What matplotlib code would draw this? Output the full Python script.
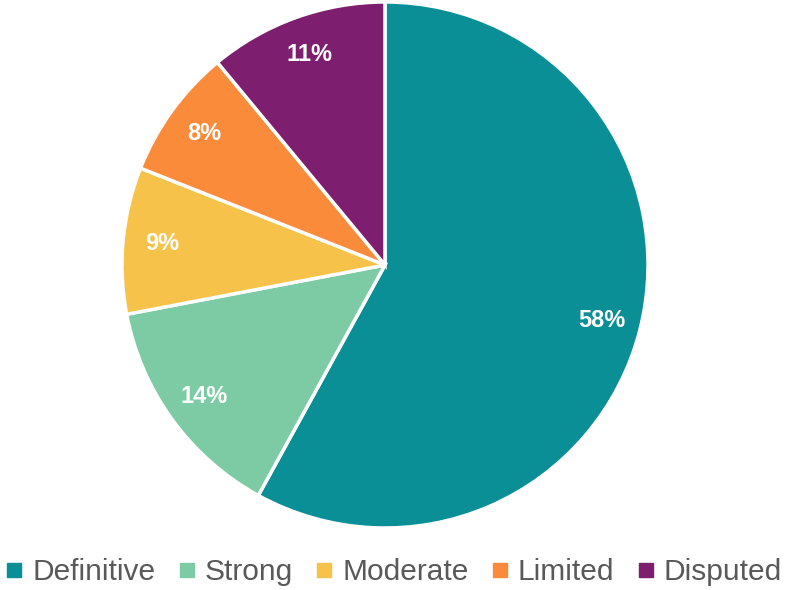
import matplotlib
matplotlib.use("Agg")
import matplotlib.pyplot as plt
from matplotlib.lines import Line2D

categories = ["Definitive", "Strong", "Moderate", "Limited", "Disputed"]
values = [58, 14, 9, 8, 11]
colors = ["#0A8F96", "#7DCBA4", "#F7C24A", "#F98B3A", "#7E1E6E"]

plt.rcParams['font.family'] = ['Liberation Sans', 'DejaVu Sans']

fig = plt.figure(figsize=(7.87, 5.90), dpi=100)
cx, cy, r = 385, 265, 263
W, H = 787, 590
ax = fig.add_axes([(cx - r) / W, (H - cy - r) / H, 2 * r / W, 2 * r / H])
wedges, texts, autotexts = ax.pie(
    values, colors=colors, startangle=90, counterclock=False,
    autopct=lambda p: f"{p:.0f}%", pctdistance=0.85,
    wedgeprops=dict(edgecolor="white", linewidth=2.5),
    textprops=dict(color="white", fontsize=17, fontweight="bold"),
    radius=1.0)
ax.set_xlim(-1.0, 1.0)
ax.set_ylim(-1.0, 1.0)
ax.set_aspect("equal")

handles = [Line2D([0], [0], marker="s", linestyle="", markersize=10,
                  markerfacecolor=c, markeredgecolor=c) for c in colors]
leg = fig.legend(handles, categories, loc="center", bbox_to_anchor=(0.5, 1 - 572 / H),
                 ncol=5, frameon=False, fontsize=21.5, handlelength=0.6,
                 handletextpad=0.3, columnspacing=0.75, borderaxespad=0)
for t in leg.get_texts():
    t.set_color("#595959")

fig.savefig("out.png", dpi=100)
